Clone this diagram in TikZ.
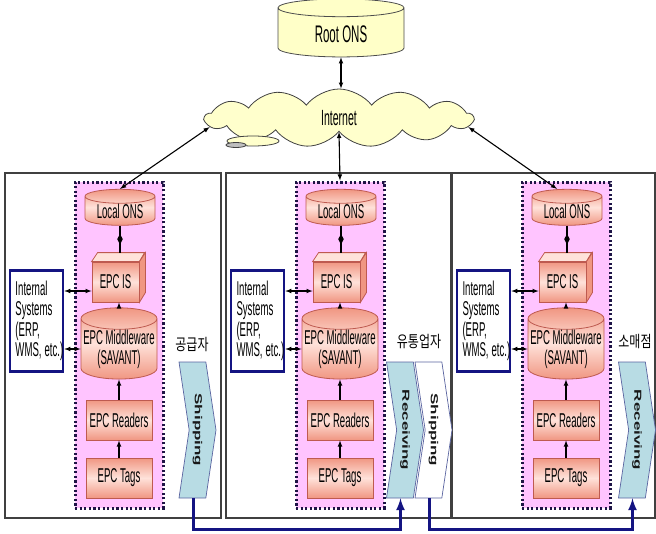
\documentclass[tikz,border=0pt]{standalone}
\usepackage{graphicx}
\usepackage{fontspec}
\setmainfont{Liberation Sans}[FakeStretch=0.48]
\newfontfamily\plainsans{Liberation Sans}
\newfontfamily\kor{Noto Sans CJK KR}[FakeStretch=0.75]
\usepackage{tikz}
\usetikzlibrary{shapes.geometric}
\usetikzlibrary{shapes.symbols}
\usetikzlibrary{calc}
\definecolor{rootyellow}{RGB}{255,255,200}
\definecolor{cloudyellow}{RGB}{255,255,204}
\definecolor{epcedge}{RGB}{240,150,130}
\definecolor{epclight}{RGB}{255,226,218}
\definecolor{epcline}{RGB}{190,90,80}
\definecolor{pinkbg}{RGB}{255,196,255}
\definecolor{dotline}{RGB}{30,20,70}
\definecolor{navy}{RGB}{20,20,130}
\definecolor{flowblue}{RGB}{184,220,228}
\definecolor{flowline}{RGB}{90,100,160}
\newcommand{\flowtext}[1]{\rotatebox{-90}{\scalebox{1}[0.6]{\plainsans\bfseries\fontsize{17}{17}\selectfont #1}}}
\tikzstyle{lbl}=[font=\fontsize{20}{20.5}\selectfont]
\tikzstyle{epc}=[lbl, draw=epcline, line width=0.8pt, top color=epcedge, bottom color=epcedge, middle color=epclight, inner sep=0pt]
\tikzstyle{epcbox}=[epc, rectangle, minimum width=66pt, minimum height=40pt]
\tikzstyle{epcdb}=[epc, cylinder, shape border rotate=90, aspect=0.3]
\tikzstyle{isface}=[draw=epcline, line width=0.8pt]
\tikzstyle{stage}=[draw=dotline, fill=pinkbg, line width=3pt, dash pattern=on 2.2pt off 2.4pt, minimum width=88pt, minimum height=326pt, inner sep=0pt]
\tikzstyle{sysbox}=[lbl, draw=navy, line width=2.5pt, fill=white, minimum width=53pt, minimum height=101pt, text width=42pt, align=left, inner sep=0pt]
\tikzstyle{panel}=[draw=black!75, line width=1.2pt]
\tikzstyle{flow}=[signal, signal to=east, signal from=west, signal pointer angle=163, draw=flowline, line width=0.7pt, minimum width=37pt, minimum height=136pt, inner sep=0pt, text=black!90]
\tikzstyle{link}=[<->, >=latex, line width=1.1pt]
\tikzstyle{feed}=[->, >=latex, line width=1.1pt]
\tikzstyle{route}=[->, >=latex, draw=navy, line width=3pt]
\tikzstyle{role}=[font=\kor\fontsize{16}{18}\selectfont, inner sep=0pt]

\begin{document}
\begin{tikzpicture}[x=1pt, y=-1pt]
    \useasboundingbox (0,0) rectangle (656,533);
    % root ONS and the internet cloud
    \node[lbl, cylinder, shape border rotate=90, aspect=0.3, draw=black!70, line width=0.8pt, fill=rootyellow, minimum width=126pt, minimum height=58pt, font=\fontsize{24}{24}\selectfont] (root) at (341,34) {Root ONS};
    \node[cloud, cloud puffs=13, cloud puff arc=105, aspect=5, draw=black!75, fill=cloudyellow, line width=0.8pt, minimum width=268pt, minimum height=58pt, font=\fontsize{22}{22}\selectfont] (net) at (339,118) {Internet};
    \draw[draw=black!75, fill=cloudyellow, line width=0.8pt] (253,141) ellipse (26 and 5);
    \draw[draw=black!75, fill=black!25, line width=0.8pt] (236,145) ellipse (10 and 2.5);
    \draw[link] (root.south) -- (root.south |- net.north);

    % one panel per trading partner
    \foreach \i/\dx/\pr in {1/0/221, 2/221/451, 3/447/655} {
        \draw[panel] (5+\dx,173) rectangle (\pr,518);
        \node[stage] (box\i) at (119+\dx,345) {};
        \node[epcdb, minimum width=70pt, minimum height=36pt] (ons\i) at (120+\dx,211) {Local ONS};
        \node[epc, minimum width=47pt, minimum height=40pt] (is\i) at (115.5+\dx,282) {EPC IS};
        \draw[isface, fill=epclight] (is\i.north west) -- ++(6,-9) -- ++(47,0) -- (is\i.north east) -- cycle;
        \draw[isface, fill=epcedge] (is\i.north east) -- ++(6,-9) -- ++(0,40) -- (is\i.south east) -- cycle;
        \coordinate (ist\i) at ($(is\i.north)+(3,-9)$);
        \coordinate (isl\i) at ($(is\i.west)+(0,9)$);
        \node[epcdb, minimum width=76pt, minimum height=54pt, align=center, font=\fontsize{20}{20}\selectfont] (mw\i) at (119+\dx,349) {EPC Middleware\\(SAVANT)};
        \node[epcbox] (rd\i) at (119+\dx,420) {EPC Readers};
        \node[epcbox] (tag\i) at (119+\dx,478) {EPC Tags};
        \node[sysbox] (int\i) at (36.5+\dx,321) {Internal\\Systems\\(ERP,\\\mbox{WMS,\hspace{3pt}etc.)}};
        \draw[line width=1.1pt] (ons\i.south) -- (ons\i.south |- ist\i) node[midway, diamond, fill=black, inner sep=0pt, minimum width=6pt, minimum height=11pt] (dm\i) {};
        \draw[feed] (mw\i.north) -- (mw\i.north |- is\i.south);
        \draw[feed] (rd\i.north) -- (mw\i.south);
        \draw[feed] (tag\i.north) -- (rd\i.south);
        \draw[link] (int\i.east |- isl\i) -- (isl\i);
        \draw[link] (int\i.east |- mw\i.west) -- (mw\i.west);
    }

    \draw[link] (net.south) -- (box2.north);
    \draw[link] (net.184) -- (ons1.north);
    \draw[link] (net.-4) -- ([xshift=-10pt]ons3.north);

    % supplier, distributor, retailer
    \node[role] (sup) at (192,345) {공급자};
    \node[role] (dist) at (419,342) {유통업자};
    \node[role] (shop) at (635,342) {소매점};

    \node[flow, fill=flowblue] (ship1) at (197.5,430) {\flowtext{Shipping}};
    \node[flow, fill=flowblue] (rec2) at (405,430) {\flowtext{Receiving}};
    \node[flow, fill=white] (ship2) at (433.5,430) {\flowtext{Shipping}};
    \node[flow, fill=flowblue] (rec3) at (637,430) {\flowtext{Receiving}};

    \draw[route] ([xshift=-4.5pt]ship1.south) -- ++(0,31) -| ([xshift=-4.5pt]rec2.south);
    \draw[route] ([xshift=-4.5pt]ship2.south) -- ++(0,31) -| ([xshift=-4.5pt]rec3.south);
\end{tikzpicture}
\end{document}
